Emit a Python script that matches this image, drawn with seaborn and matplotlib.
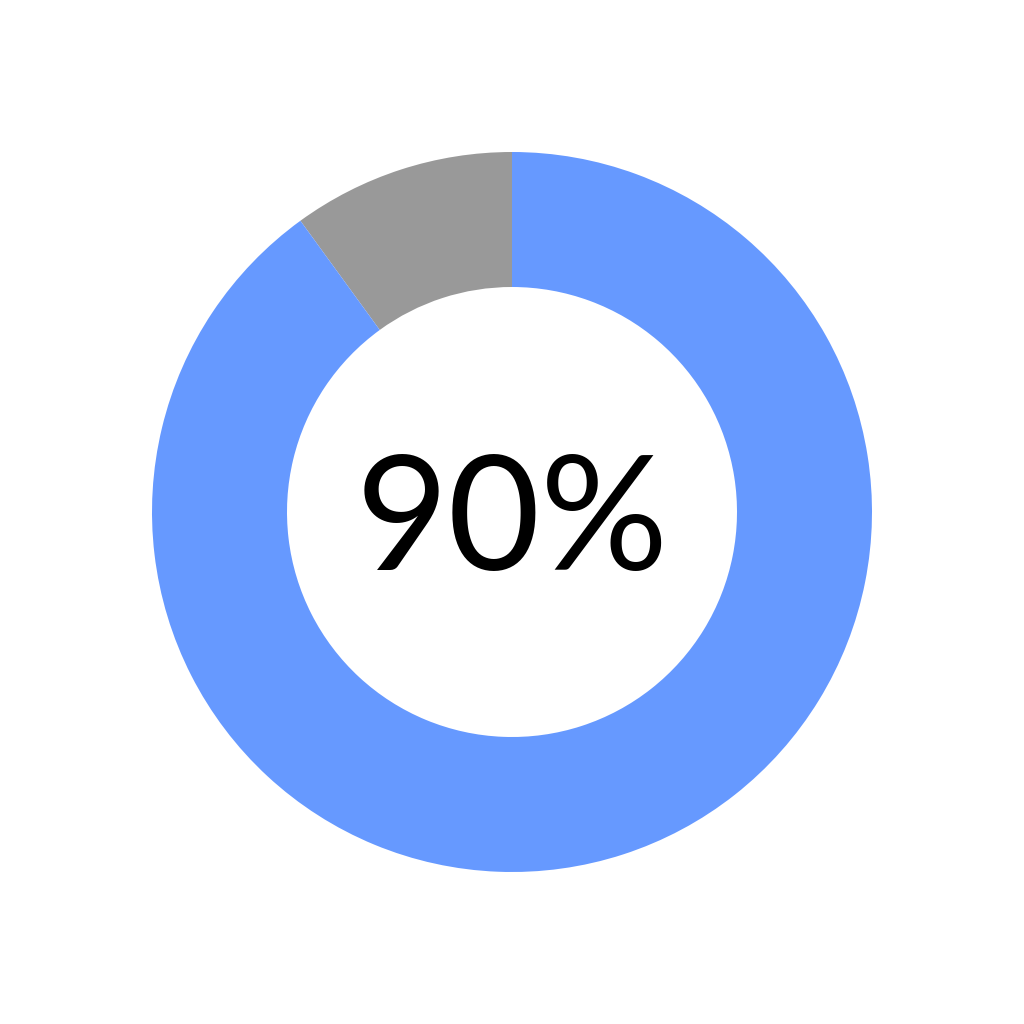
import matplotlib.pyplot as plt
import seaborn as sns

# share of the ring
labels = ["remaining", "done"]
shares = [10, 90]
colors = ["#999999", "#6699FF"]
center_label = "90%"

sns.set_theme(style="white")
plt.rcParams['font.family'] = ['Lato', 'DejaVu Sans']

fig = plt.figure(figsize=(10.24, 10.24), dpi=100)
ax = fig.add_axes([0, 0, 1, 1])

ax.pie(shares, colors=colors, startangle=90, counterclock=True,
       radius=1.0, wedgeprops=dict(width=0.375, edgecolor="none", linewidth=0))

# label sits a touch below centre, like the reference
ax.text(0, -0.036, center_label, ha="center", va="center", fontsize=115,
        fontweight="normal", color="black")

lim = 1024 / 2 / 360
ax.set_xlim(-lim, lim)
ax.set_ylim(-lim, lim)
ax.set_aspect("equal")
ax.axis("off")

fig.savefig("out.png", dpi=100, facecolor="white")
